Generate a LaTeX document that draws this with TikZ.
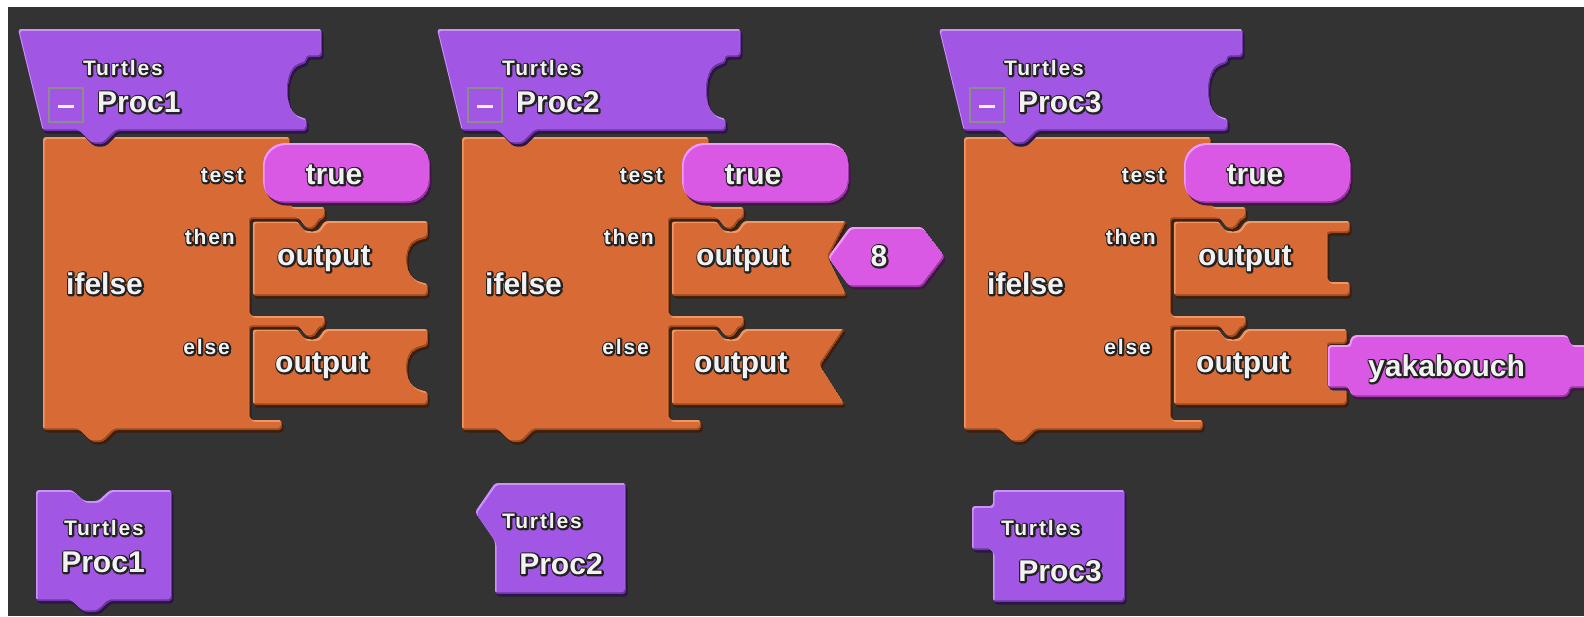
\documentclass[tikz,border=0pt]{standalone}
\usepackage{fontspec}
\setmainfont{Liberation Sans}
\newfontfamily\lsfont{Liberation Sans}[LetterSpace=9]

\definecolor{canvas}{HTML}{333333}
\definecolor{ppbase}{HTML}{A157E3}
\definecolor{pplight}{HTML}{C993F7}
\definecolor{pprim}{HTML}{6E34A8}
\definecolor{ppshadow}{HTML}{2A1640}
\definecolor{mgbase}{HTML}{DA59E4}
\definecolor{mglight}{HTML}{F29AF7}
\definecolor{mgrim}{HTML}{9C35A6}
\definecolor{mgshadow}{HTML}{3E1842}
\definecolor{orbase}{HTML}{D86B35}
\definecolor{orlight}{HTML}{EF9866}
\definecolor{orrim}{HTML}{A14A1C}
\definecolor{orshadow}{HTML}{3B1E0E}
\definecolor{txtlight}{HTML}{F2F2F2}
\definecolor{txtdark}{HTML}{222222}
\definecolor{boxgray}{HTML}{8C8C8C}

% light text over a stroked dark outline (PDF text render mode 1)
\newcommand\etx[1]{%
  \makebox[0pt][l]{\kern0.6pt\raisebox{-0.6pt}{\textcolor{txtdark}{%
    \special{pdf:literal direct 1 Tr 3.4 w 1 j}#1\special{pdf:literal direct 0 Tr}}}}%
  \textcolor{txtlight}{#1}}

% bevelled block: drop shadow, dark rim bottom/right, highlight top/left
\newcommand\bevel[3][3pt]{%
  \fill[#3shadow,rounded corners=#1,shift={(1.5,2.5)}] #2;
  \begin{scope}
    \clip[rounded corners=#1] #2;
    \fill[#3rim,rounded corners=#1] #2;
    \fill[#3light,rounded corners=#1,shift={(-1.5,-2)}] #2;
    \begin{scope}
      \clip[rounded corners=#1,shift={(-1.5,-2)}] #2;
      \fill[#3base,rounded corners=#1,shift={(1.5,2)}] #2;
    \end{scope}
  \end{scope}}

\tikzset{
  bigtxt/.style={font=\bfseries\fontsize{30}{34}\selectfont, inner sep=0pt},
  smalltxt/.style={font=\lsfont\bfseries\fontsize{21}{25}\selectfont, inner sep=0pt},
}

% procedure header, ifelse body, labels and the "true" test value
\newcommand\ifelseblock[2]{%
  \bevel{(43,137) -- (290,137) -- (290,207) -- (325,207) -- (325,219) -- (321,219) -- (314,229) -- (307,229) -- (300,219) -- (250,219) -- (250,316) -- (325,316) -- (325,327) -- (321,327) -- (314,337) -- (307,337) -- (300,327) -- (250,327) -- (250,420) -- (282,420) -- (282,430) -- (115,430) -- (103,442) -- (92,442) -- (80,430) -- (43,430) -- cycle}{or}
  \bevel{(18,29) -- (322,29) -- (322,57) -- (307,57) -- (307,63) -- (300,65) .. controls (285,74) and (285,110) .. (300,117) -- (307,119) -- (307,131) -- (117,131) -- (104,144) -- (93,144) -- (80,131) -- (43,131) -- cycle}{pp}
  \draw[boxgray,line width=1.6pt] (49,88) rectangle (83,122);
  \draw[txtlight,line width=3pt] (58,106) -- (74,106);
  \node[smalltxt,anchor=base] (#1turtles) at (123,75) {\etx{Turtles}};
  \node[bigtxt,anchor=base west] (#1proc) at (97,112) {\etx{#2}};
  \node[smalltxt,anchor=base east] (#1test) at (244,182) {\etx{test}};
  \node[smalltxt,anchor=base east] (#1then) at (235,244) {\etx{then}};
  \node[smalltxt,anchor=base east] (#1else) at (230,354) {\etx{else}};
  \node[bigtxt,anchor=base west] (#1ifelse) at (66,294) {\etx{ifelse}};
  \bevel[22pt]{(263,143) rectangle (430,203)}{mg}
  \node[bigtxt,anchor=base] (#1true) at (334,184) {\etx{true}};
}

\begin{document}
\begin{tikzpicture}[x=1pt,y=-1pt]
\useasboundingbox (0,0) rectangle (1584,616);
\clip (0,0) rectangle (1584,616);
\fill[white] (0,0) rectangle (1584,616);
\fill[canvas] (8,7) rectangle (1584,616);

% ---- Proc1: outputs with round sockets
\begin{scope}
  \bevel{(253,221) -- (297,221) -- (304,231) -- (318,231) -- (325,221) -- (428,221) -- (428,238) -- (420,240) .. controls (404,246) and (404,276) .. (420,282) -- (428,284) -- (428,296) -- (253,296) -- cycle}{or}
  \node[bigtxt,anchor=base west] (b1outa) at (277,265) {\etx{output}};
  \bevel{(253,329) -- (297,329) -- (304,339) -- (318,339) -- (325,329) -- (428,329) -- (428,346) -- (420,348) .. controls (404,354) and (404,384) .. (420,390) -- (428,392) -- (428,405) -- (253,405) -- cycle}{or}
  \node[bigtxt,anchor=base west] (b1outb) at (275,372) {\etx{output}};
  \ifelseblock{b1}{Proc1}
\end{scope}

% ---- Proc2: outputs with pointed sockets, number value
\begin{scope}[shift={(419,0)}]
  \bevel{(253,221) -- (297,221) -- (304,231) -- (318,231) -- (325,221) -- (428,221) -- (409,258) -- (428,296) -- (253,296) -- cycle}{or}
  \node[bigtxt,anchor=base west] (b2outa) at (277,265) {\etx{output}};
  \bevel{(253,329) -- (297,329) -- (304,339) -- (318,339) -- (325,329) -- (426,329) -- (401,366) -- (426,405) -- (253,405) -- cycle}{or}
  \node[bigtxt,anchor=base west] (b2outb) at (275,372) {\etx{output}};
  \ifelseblock{b2}{Proc2}
  \bevel{(409,257) -- (431,227) -- (503,227) -- (526,257) -- (503,287) -- (431,287) -- cycle}{mg}
  \node[bigtxt,anchor=base] (b2eight) at (460,266) {\etx{8}};
\end{scope}

% ---- Proc3: outputs with square sockets, word value
\begin{scope}[shift={(921,0)}]
  \bevel{(253,221) -- (297,221) -- (304,231) -- (318,231) -- (325,221) -- (429,221) -- (429,233) -- (407,233) -- (407,282) -- (429,282) -- (429,296) -- (253,296) -- cycle}{or}
  \node[bigtxt,anchor=base west] (b3outa) at (277,265) {\etx{output}};
  \bevel{(253,329) -- (297,329) -- (304,339) -- (318,339) -- (325,329) -- (426,329) -- (426,344) -- (407,344) -- (407,389) -- (426,389) -- (426,405) -- (253,405) -- cycle}{or}
  \node[bigtxt,anchor=base west] (b3outb) at (275,372) {\etx{output}};
  \ifelseblock{b3}{Proc3}
  \bevel{(407,345) -- (429,345) -- (429,339) -- (433,335) -- (645,335) -- (649,339) -- (649,345) -- (672,345) -- (672,388) -- (649,388) -- (649,393) -- (645,397) -- (433,397) -- (429,393) -- (429,388) -- (407,388) -- cycle}{mg}
  \node[bigtxt,anchor=base west] (b3word) at (447,376) {\etx{yakabouch}};
\end{scope}

% ---- call blocks
\bevel{(36,490) -- (72,490) -- (84,501) -- (98,501) -- (110,490) -- (172,490) -- (172,601) -- (110,601) -- (98,612) -- (84,612) -- (72,601) -- (36,601) -- cycle}{pp}
\node[smalltxt,anchor=base] (c1turtles) at (104,535) {\etx{Turtles}};
\node[bigtxt,anchor=base] (c1proc) at (103,572) {\etx{Proc1}};

\bevel{(495,483) -- (626,483) -- (626,594) -- (495,594) -- (495,541) -- (475,512) -- cycle}{pp}
\node[smalltxt,anchor=base] (c2turtles) at (542,528) {\etx{Turtles}};
\node[bigtxt,anchor=base] (c2proc) at (561,574) {\etx{Proc2}};

\bevel{(993,490) -- (1125,490) -- (1125,602) -- (993,602) -- (993,550) -- (972,550) -- (972,506) -- (993,506) -- cycle}{pp}
\node[smalltxt,anchor=base] (c3turtles) at (1041,535) {\etx{Turtles}};
\node[bigtxt,anchor=base] (c3proc) at (1060,581) {\etx{Proc3}};
\end{tikzpicture}
\end{document}
